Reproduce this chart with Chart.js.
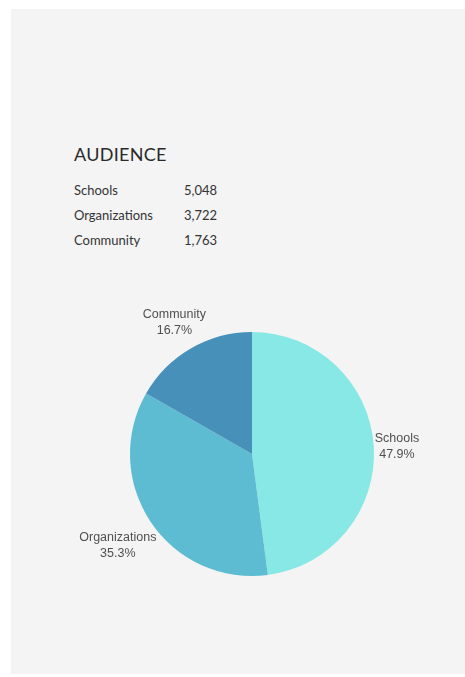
<!DOCTYPE html>
<html>
<head>
<meta charset="utf-8">
<script src="https://cdn.jsdelivr.net/npm/chart.js@4.4.1/dist/chart.umd.min.js"></script>
<style>
  html, body { margin: 0; padding: 0; background: #fff; }
  body { width: 465px; height: 677px; position: relative; overflow: hidden; }
  #panel {
    position: absolute; left: 11px; top: 9px; width: 454px; height: 665px;
    background: #f4f4f4;
  }
  #titulo {
    position: absolute; left: 74px; top: 143px;
    font-family: Lato, sans-serif; font-size: 18px; color: #2a2a2a; letter-spacing: 0.3px;
  }
  #tabela {
    position: absolute; left: 74px; top: 178px;
    font-family: Lato, sans-serif; font-size: 13px; color: #333;
    border-collapse: collapse;
  }
  #tabela td { padding: 0; height: 25px; line-height: 25px; }
  #tabela td.nome { width: 110px; }
  #grafico { position: absolute; left: 40px; top: 280px; }
</style>
</head>
<body>
<div id="panel"></div>
<div id="titulo">AUDIENCE</div>
<table id="tabela"></table>
<canvas id="grafico" width="424" height="348"></canvas>
<script>
// Dados do público
const categorias = ["Schools", "Organizations", "Community"];
const valores = [5048, 3722, 1763];
const cores = ["#88E8E6", "#5EBCD2", "#4790BA"];

// Tabela de contagens
const tabela = document.getElementById("tabela");
categorias.forEach((c, i) => {
	const tr = document.createElement("tr");
	tr.innerHTML = `<td class="nome">${c}</td><td>${valores[i].toLocaleString("en-US")}</td>`;
	tabela.appendChild(tr);
});

// Rótulos fora das fatias (nome + percentual)
const rotulosExternos = {
	id: "rotulosExternos",
	afterDatasetsDraw(chart) {
		const ctx = chart.ctx;
		const meta = chart.getDatasetMeta(0);
		const total = valores.reduce((a, b) => a + b, 0);
		ctx.save();
		ctx.font = "12.5px 'Liberation Sans', Arial, sans-serif";
		ctx.fillStyle = "#505050";
		ctx.textAlign = "center";
		ctx.textBaseline = "middle";
		meta.data.forEach((arc, i) => {
			const p = arc.getProps(["x", "y", "startAngle", "endAngle", "outerRadius"], true);
			const meio = (p.startAngle + p.endAngle) / 2;
			const linhas = [categorias[i], ((valores[i] / total) * 100).toFixed(1) + "%"];
			const largura = Math.max(...linhas.map((l) => ctx.measureText(l).width));
			const dist = p.outerRadius + 1 + largura / 2;
			const cx = p.x + Math.cos(meio) * dist;
			const cy = p.y + Math.sin(meio) * dist + 2;
			ctx.fillText(linhas[0], cx, cy - 8);
			ctx.fillText(linhas[1], cx, cy + 8);
		});
		ctx.restore();
	}
};

new Chart(document.getElementById("grafico"), {
	type: "pie",
	data: {
		labels: categorias,
		datasets: [
			{
				data: valores,
				backgroundColor: cores,
				borderWidth: 0
			}
		]
	},
	options: {
		responsive: false,
		animation: false,
		layout: { padding: { left: 90, right: 90, top: 52, bottom: 52 } },
		plugins: {
			legend: { display: false },
			tooltip: { enabled: false }
		}
	},
	plugins: [rotulosExternos]
});
</script>
</body>
</html>
